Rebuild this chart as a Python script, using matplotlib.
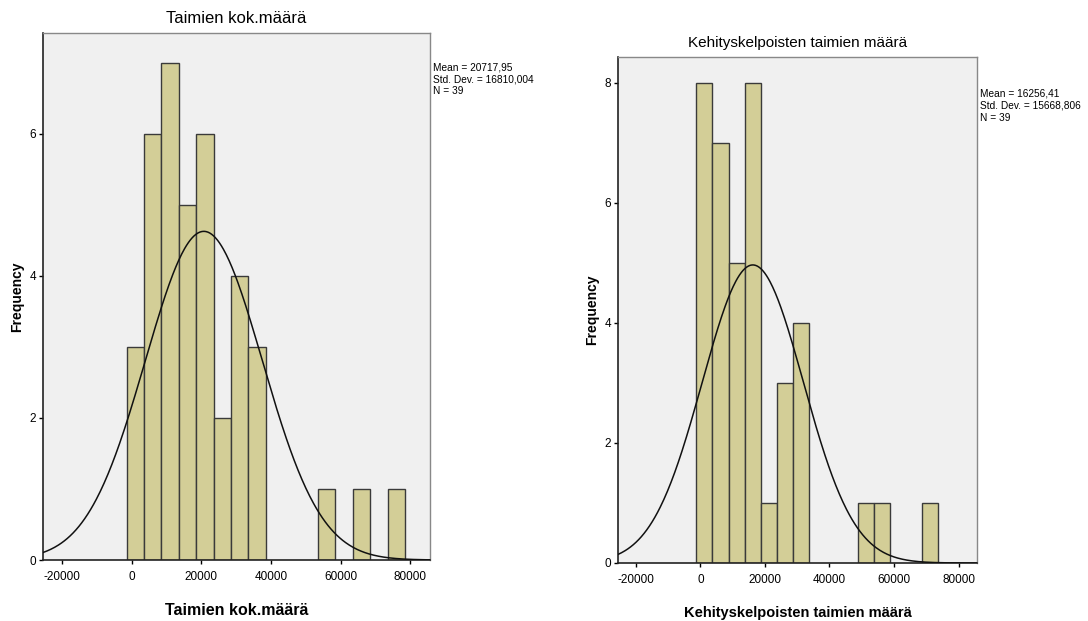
import numpy as np
import matplotlib
matplotlib.use("Agg")
import matplotlib.pyplot as plt

plt.rcParams['font.family'] = ['Liberation Sans', 'DejaVu Sans']

# Taimien kok.määrä - histogram bins (width 5000)
left_edges = [-1500, 3500, 8500, 13500, 18500, 23500, 28500, 33500,
              53500, 63500, 73500]
left_counts = [3, 6, 7, 5, 6, 2, 4, 3, 1, 1, 1]
left_mean, left_sd, left_n = 20717.95, 16810.004, 39

# Kehityskelpoisten taimien määrä
right_edges = [-1250, 3750, 8750, 13750, 18750, 23750, 28750,
               48750, 53750, 68750]
right_counts = [8, 7, 5, 8, 1, 3, 4, 1, 1, 1]
right_mean, right_sd, right_n = 16256.41, 15668.806, 39

bin_width = 5000
x_ticks = [-20000, 0, 20000, 40000, 60000, 80000]

bar_color = '#d3ce97'
edge_color = '#3a3a3a'
bg_color = '#f0f0f0'


def draw_hist(ax, edges, counts, mean, sd, n, title, xlabel, stats,
              ylim, yticks, title_size, xlabel_size, stats_y):
    ax.set_facecolor(bg_color)
    ax.bar(edges, counts, width=bin_width, align='edge', color=bar_color,
           edgecolor=edge_color, linewidth=1.0, zorder=2)
    xs = np.linspace(-25500, 85700, 400)
    pdf = n * bin_width / (sd * np.sqrt(2 * np.pi)) * np.exp(-0.5 * ((xs - mean) / sd) ** 2)
    ax.plot(xs, pdf, color='#111111', lw=1.1, zorder=3)
    ax.set_xlim(-25500, 85700)
    ax.set_ylim(*ylim)
    ax.set_xticks(x_ticks)
    ax.set_xticklabels([str(t) for t in x_ticks])
    ax.set_yticks(yticks)
    ax.tick_params(axis='both', labelsize=8.5, length=3, width=1, pad=2)
    ax.tick_params(axis='x', pad=5)
    for s in ['left', 'bottom']:
        ax.spines[s].set_color('#222222')
        ax.spines[s].set_linewidth(1.2)
    for s in ['top', 'right']:
        ax.spines[s].set_color('#888888')
        ax.spines[s].set_linewidth(1.0)
    ax.set_title(title, fontsize=title_size, pad=7)
    ax.set_xlabel(xlabel, fontsize=xlabel_size, fontweight='bold', labelpad=14)
    ax.set_ylabel('Frequency', fontsize=10, fontweight='bold', labelpad=4)
    ax.text(1.007, stats_y, stats, transform=ax.transAxes, fontsize=7.3,
            va='top', ha='left', linespacing=1.25)


fig = plt.figure(figsize=(10.88, 6.21), dpi=100)
ax1 = fig.add_axes([0.0395, 0.0982, 0.3557, 0.8486])
ax2 = fig.add_axes([0.568, 0.0934, 0.330, 0.815])

draw_hist(ax1, left_edges, left_counts, left_mean, left_sd, left_n,
          'Taimien kok.määrä', 'Taimien kok.määrä',
          'Mean = 20717,95\nStd. Dev. = 16810,004\nN = 39',
          (0, 7.42), [0, 2, 4, 6], 12, 11.5, 0.945)
draw_hist(ax2, right_edges, right_counts, right_mean, right_sd, right_n,
          'Kehityskelpoisten taimien määrä', 'Kehityskelpoisten taimien määrä',
          'Mean = 16256,41\nStd. Dev. = 15668,806\nN = 39',
          (0, 8.43), [0, 2, 4, 6, 8], 11, 10.5, 0.937)

fig.savefig('out.png', dpi=100)
